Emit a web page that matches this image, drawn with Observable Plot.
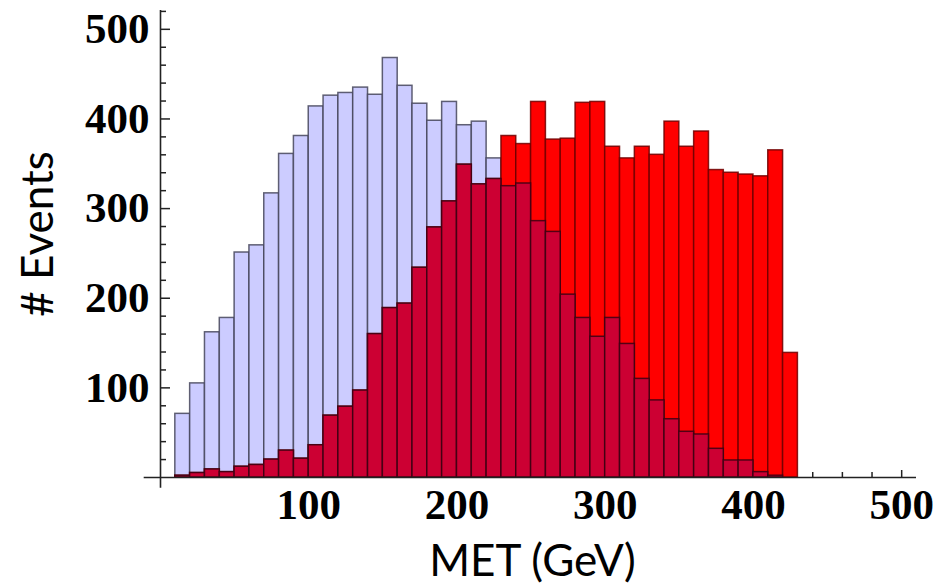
<!DOCTYPE html>
<html>
<head>
<meta charset="utf-8">
<script src="https://cdn.jsdelivr.net/npm/d3@7"></script>
<script src="https://cdn.jsdelivr.net/npm/@observablehq/plot@0.6"></script>
<style>
  html, body { margin: 0; padding: 0; background: #fff; }
  #chart { width: 942px; height: 585px; }
</style>
</head>
<body>
<div id="chart"></div>
<script>
// Bin edges (GeV)
const binStart = [10, 20, 30, 40, 50, 60, 70, 80, 90, 100, 110, 120, 130, 140, 150, 160, 170, 180, 190, 200, 210,
                  220, 230, 240, 250, 260, 270, 280, 290, 300, 310, 320, 330, 340, 350, 360, 370, 380, 390, 400, 410, 420];
const binEnd   = [20, 30, 40, 50, 60, 70, 80, 90, 100, 110, 120, 130, 140, 150, 160, 170, 180, 190, 200, 210, 220,
                  230, 240, 250, 260, 270, 280, 290, 300, 310, 320, 330, 340, 350, 360, 370, 380, 390, 400, 410, 420, 430];

// Light blue (lavender) histogram counts
const blueCounts = [71, 105, 162, 178, 251, 259, 317, 361, 381, 414, 426, 429, 435, 427, 468, 437, 417, 398, 419, 393, 397,
                    356, 325, 328, 286, 274, 204, 178, 157, 178, 149, 110, 86, 65, 51, 48, 32, 19, 19, 6, 2, 0];
// Red histogram counts
const redCounts  = [2, 5, 9, 6, 12, 14, 20, 30, 21, 36, 69, 79, 97, 160, 189, 194, 234, 279, 308, 349, 327,
                    333, 381, 372, 419, 377, 378, 418, 419, 369, 356, 369, 360, 397, 369, 386, 343, 340, 338, 336, 365, 139];

// Tick values
const xMajorTicks = [100, 200, 300, 400, 500];
const xMinorTicks = [20, 40, 60, 80, 120, 140, 160, 180, 220, 240, 260, 280, 320, 340, 360, 380, 420, 440, 460, 480];
const yMajorTicks = [100, 200, 300, 400, 500];
const yMinorTicks = [20, 40, 60, 80, 120, 140, 160, 180, 220, 240, 260, 280, 320, 340, 360, 380, 420, 440, 460, 480, 520];

const xTitle = "MET (GeV)";
const yTitle = "# Events";

const bins = binStart.map((s, i) => ({
  x1: s,
  x2: binEnd[i],
  blue: blueCounts[i],
  red: redCounts[i],
  both: Math.min(blueCounts[i], redCounts[i])
}));

const tickFont = {fontSize: 43, fontWeight: "bold", fontFamily: "Liberation Serif, DejaVu Serif, serif"};
const titleFont = {fontSize: 44, fontFamily: "Lato, Open Sans, sans-serif", fill: "#000"};

const chart = Plot.plot({
  width: 942,
  height: 585,
  marginLeft: 160,
  marginRight: 26,
  marginTop: 10,
  marginBottom: 108,
  x: {domain: [0, 510]},
  y: {domain: [0, 521]},
  style: {background: "white", color: "#000"},
  marks: [
    Plot.axisY({ticks: yMinorTicks, tickSize: -6, tickFormat: () => "", label: null, strokeWidth: 1.5, stroke: "#222"}),
    Plot.axisY({ticks: yMajorTicks, tickSize: -10, tickPadding: 21, label: null, strokeWidth: 1.5, stroke: "#222", ...tickFont}),
    Plot.axisX({ticks: xMinorTicks, tickSize: -5, tickFormat: () => "", label: null, strokeWidth: 1.5, stroke: "#222"}),
    Plot.axisX({ticks: xMajorTicks, tickSize: -7, tickPadding: 18, label: null, strokeWidth: 1.5, stroke: "#222", ...tickFont}),
    Plot.rect(bins, {x1: "x1", x2: "x2", y1: 0, y2: "blue", fill: "#ccccff", stroke: "#45455a", strokeOpacity: 0.85, strokeWidth: 1.5}),
    Plot.rect(bins, {x1: "x1", x2: "x2", y1: 0, y2: "red", fill: "#ff0000", stroke: "#6e0000", strokeOpacity: 0.85, strokeWidth: 1.5}),
    Plot.rect(bins, {x1: "x1", x2: "x2", y1: 0, y2: "both", fill: "#cc0033", stroke: "#3a0012", strokeOpacity: 0.85, strokeWidth: 1.5}),
    Plot.ruleX([0], {y1: -12, y2: 521, stroke: "#222", strokeWidth: 1.6}),
    Plot.ruleY([0], {x1: -11, x2: 510, stroke: "#222", strokeWidth: 1.6}),
    Plot.text([yTitle], {frameAnchor: "left", textAnchor: "middle", lineAnchor: "middle", dx: -122, dy: -10, rotate: -90, ...titleFont}),
    Plot.text([xTitle], {frameAnchor: "bottom", textAnchor: "middle", lineAnchor: "bottom", dx: -6, dy: 98, ...titleFont})
  ]
});

document.getElementById("chart").appendChild(chart);
</script>
</body>
</html>
